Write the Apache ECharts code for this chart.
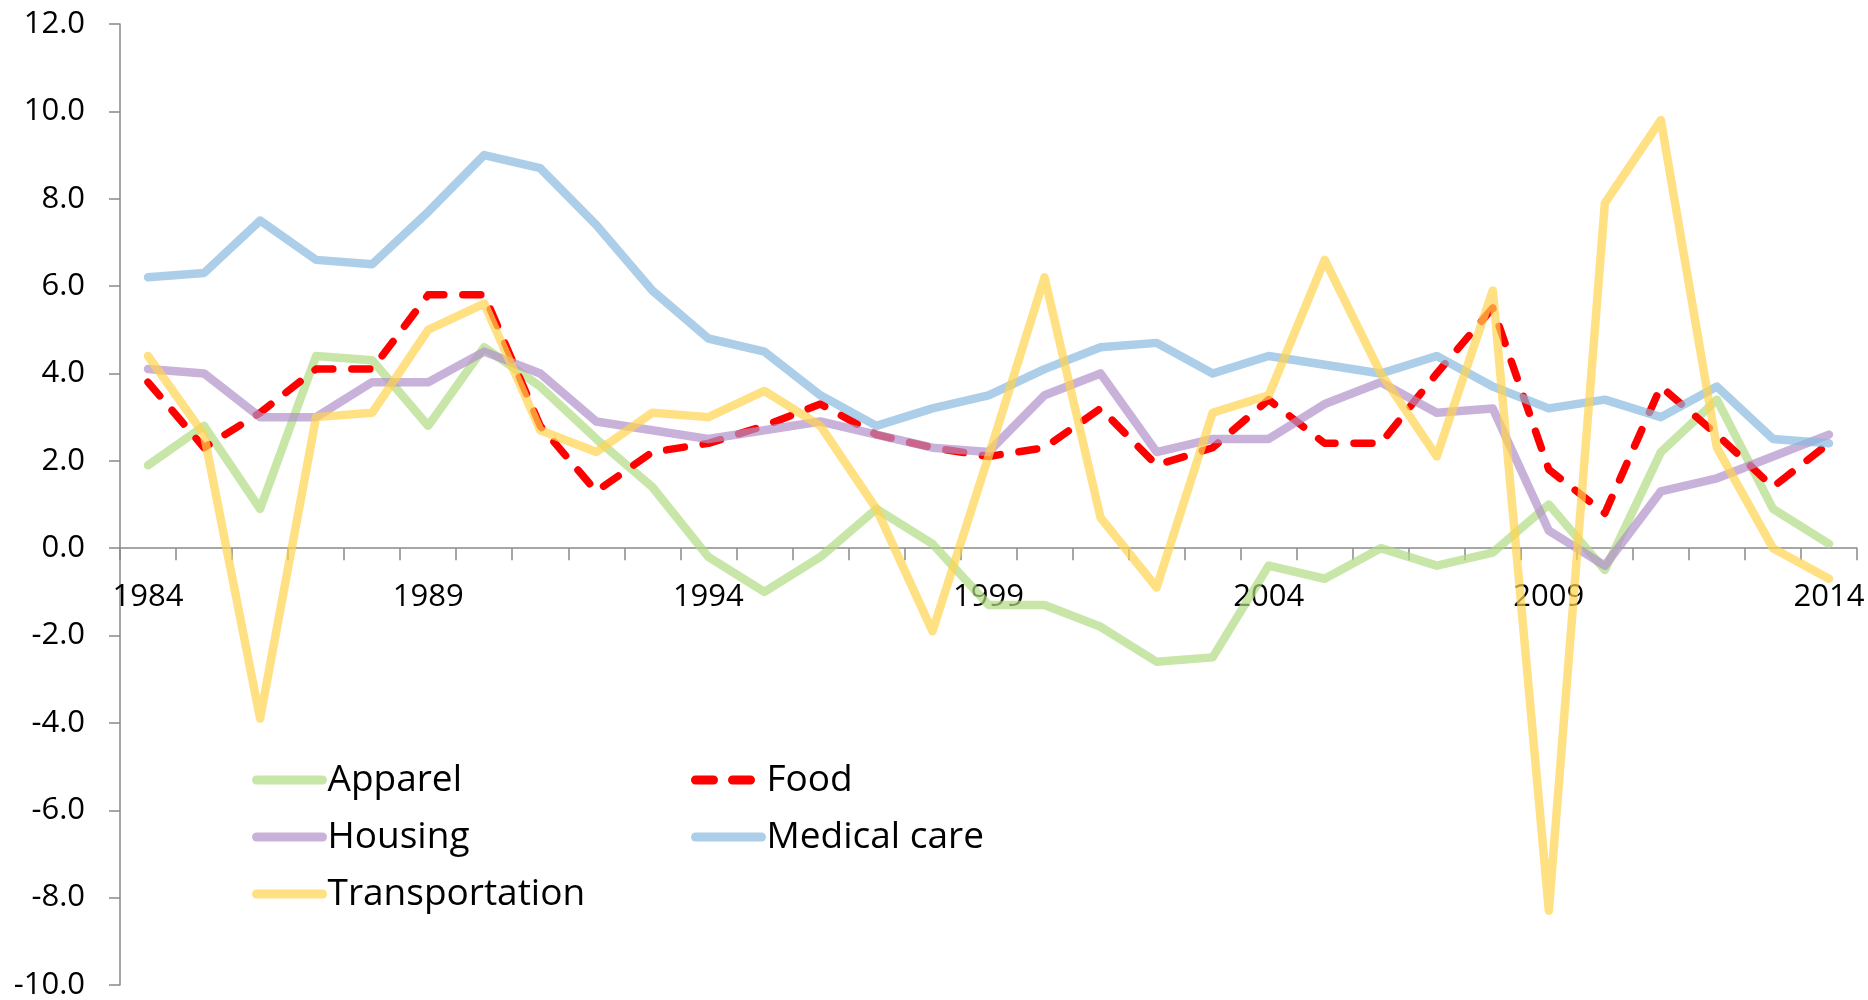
<!DOCTYPE html>
<html>
<head>
<meta charset="utf-8">
<script src="https://cdn.jsdelivr.net/npm/echarts@6/dist/echarts.min.js"></script>
<style>
  html, body { margin: 0; padding: 0; background: #fff; }
  #chart { width: 1868px; height: 1000px; }
</style>
</head>
<body>
<div id="chart"></div>
<script>
const years = ['1984','1985','1986','1987','1988','1989','1990','1991','1992','1993','1994',
  '1995','1996','1997','1998','1999','2000','2001','2002','2003','2004',
  '2005','2006','2007','2008','2009','2010','2011','2012','2013','2014'];

const apparel = [1.9, 2.8, 0.9, 4.4, 4.3, 2.8, 4.6, 3.7, 2.5, 1.4, -0.2,
  -1.0, -0.2, 0.9, 0.1, -1.3, -1.3, -1.8, -2.6, -2.5, -0.4,
  -0.7, 0.0, -0.4, -0.1, 1.0, -0.5, 2.2, 3.4, 0.9, 0.1];

const food = [3.8, 2.3, 3.1, 4.1, 4.1, 5.8, 5.8, 2.8, 1.3, 2.2, 2.4,
  2.8, 3.3, 2.6, 2.3, 2.1, 2.3, 3.2, 1.9, 2.3, 3.4,
  2.4, 2.4, 4.0, 5.5, 1.8, 0.8, 3.7, 2.6, 1.4, 2.4];

const housing = [4.1, 4.0, 3.0, 3.0, 3.8, 3.8, 4.5, 4.0, 2.9, 2.7, 2.5,
  2.7, 2.9, 2.6, 2.3, 2.2, 3.5, 4.0, 2.2, 2.5, 2.5,
  3.3, 3.8, 3.1, 3.2, 0.4, -0.4, 1.3, 1.6, 2.1, 2.6];

const medical = [6.2, 6.3, 7.5, 6.6, 6.5, 7.7, 9.0, 8.7, 7.4, 5.9, 4.8,
  4.5, 3.5, 2.8, 3.2, 3.5, 4.1, 4.6, 4.7, 4.0, 4.4,
  4.2, 4.0, 4.4, 3.7, 3.2, 3.4, 3.0, 3.7, 2.5, 2.4];

const transport = [4.4, 2.6, -3.9, 3.0, 3.1, 5.0, 5.6, 2.7, 2.2, 3.1, 3.0,
  3.6, 2.8, 0.9, -1.9, 2.1, 6.2, 0.7, -0.9, 3.1, 3.5,
  6.6, 4.0, 2.1, 5.9, -8.3, 7.9, 9.8, 2.3, 0.0, -0.7];

const fontFamily = '"Open Sans", "Noto Sans", sans-serif';
const axisColor = '#898989';

function line(name, data, color, extra) {
  return Object.assign({
    name: name,
    type: 'line',
    data: data,
    symbol: 'none',
    lineStyle: { color: color, width: 8.5, cap: 'round', join: 'round' },
    itemStyle: { color: color }
  }, extra || {});
}

const legendBase = {
  orient: 'vertical',
  top: 754,
  padding: 5,
  itemWidth: 66, itemHeight: 14, itemGap: 15,
  itemStyle: { opacity: 0 },
  lineStyle: { width: 9, cap: 'round' },
  textStyle: { fontFamily: fontFamily, fontSize: 37, lineHeight: 42, color: '#000' }
};

const chart = echarts.init(document.getElementById('chart'));
chart.setOption({
  animation: false,
  backgroundColor: '#fff',
  grid: { left: 120, right: 11, top: 24, bottom: 15, containLabel: false, outerBoundsMode: 'none' },
  legend: [
    Object.assign({}, legendBase, { data: ['Apparel', 'Housing', 'Transportation'], left: 247 }),
    Object.assign({}, legendBase, { data: ['Food', 'Medical care'], left: 686 })
  ],
  xAxis: {
    type: 'category',
    data: years,
    boundaryGap: true,
    axisLine: { onZero: false, lineStyle: { color: axisColor, width: 1.5 } },
    axisTick: { show: true, interval: 0, length: 12, lineStyle: { color: axisColor, width: 1.5 } },
    axisLabel: { interval: 4, margin: 33, fontFamily: fontFamily, fontSize: 31, color: '#000' },
    splitLine: { show: false }
  },
  yAxis: {
    type: 'value',
    min: -10, max: 12, interval: 2,
    axisLine: { show: true, lineStyle: { color: axisColor, width: 1.5 } },
    axisTick: { show: true, length: 11, lineStyle: { color: axisColor, width: 1.5 } },
    axisLabel: {
      margin: 35, fontFamily: fontFamily, fontSize: 31, color: '#000',
      formatter: v => v.toFixed(1)
    },
    splitLine: { show: false }
  },
  series: [
    line('Apparel', apparel, 'rgba(176,219,131,0.7)'),
    line('Food', food, '#ff0000', {
      lineStyle: { color: '#ff0000', width: 7.5, type: [18, 19], cap: 'round', join: 'round' }
    }),
    line('Housing', housing, 'rgba(177,145,202,0.7)'),
    line('Medical care', medical, 'rgba(137,185,222,0.7)'),
    line('Transportation', transport, 'rgba(255,211,79,0.7)')
  ]
});

// move the category axis (line, ticks and labels) up to the zero line
const yZero = chart.convertToPixel({ yAxisIndex: 0 }, 0);
const yBottom = chart.convertToPixel({ yAxisIndex: 0 }, -10);
chart.setOption({ xAxis: { offset: -(yBottom - yZero) } });
</script>
</body>
</html>
